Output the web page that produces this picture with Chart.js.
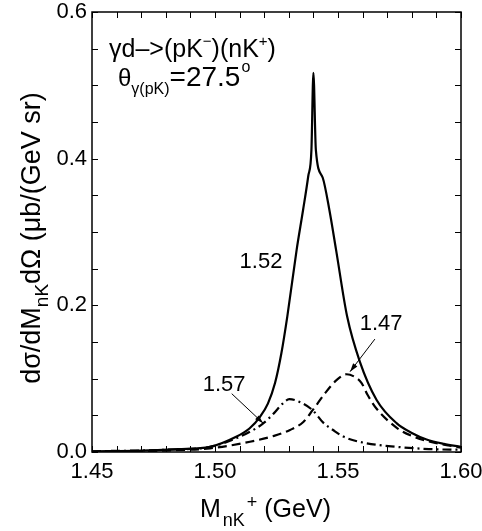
<!DOCTYPE html>
<html>
<head>
<meta charset="utf-8">
<script src="https://cdn.jsdelivr.net/npm/chart.js@4/dist/chart.umd.min.js"></script>
<style>
  body { margin: 0; background: #fff; }
  #wrap { width: 482px; height: 531px; }
</style>
</head>
<body>
<div id="wrap"><canvas id="myChart" width="482" height="531"></canvas></div>
<script>
(() => {
    // invariant mass M_nK+ (GeV) and cross sections (ub/(GeV sr)) for each curve
    let mass152 = [1.450, 1.470, 1.485, 1.498, 1.5088, 1.514, 1.5183, 1.5215, 1.5244, 1.527, 1.5294,
                   1.5332, 1.5358, 1.5379, 1.5392, 1.5400, 1.5410, 1.5438, 1.5465, 1.5492, 1.5537,
                   1.5589, 1.5657, 1.5739, 1.580, 1.586, 1.593, 1.600];
    let xsec152 = [0.001, 0.002, 0.004, 0.007, 0.021, 0.032, 0.048, 0.066, 0.094, 0.135, 0.185,
                   0.276, 0.330, 0.376, 0.412, 0.517, 0.412, 0.374, 0.330, 0.276, 0.185,
                   0.123, 0.071, 0.039, 0.026, 0.017, 0.011, 0.007];

    let mass147 = [1.450, 1.480, 1.498, 1.5142, 1.524, 1.5305, 1.5359, 1.5397, 1.5447, 1.5494,
                   1.5535, 1.557, 1.5596, 1.562, 1.5657, 1.5739, 1.580, 1.590, 1.600];
    let xsec147 = [0.000, 0.002, 0.005, 0.014, 0.022, 0.030, 0.041, 0.057, 0.080, 0.098,
                   0.106, 0.102, 0.094, 0.078, 0.059, 0.033, 0.022, 0.012, 0.006];

    let mass157 = [1.450, 1.480, 1.498, 1.5088, 1.515, 1.5196, 1.524, 1.5275, 1.5302, 1.5346,
                   1.5397, 1.544, 1.548, 1.5522, 1.560, 1.5739, 1.587, 1.600];
    let xsec157 = [0.001, 0.003, 0.007, 0.019, 0.029, 0.039, 0.053, 0.066, 0.072, 0.068,
                   0.057, 0.040, 0.030, 0.021, 0.013, 0.007, 0.004, 0.003];

    let curveLabels = ['1.52', '1.47', '1.57'];

    const FONT = '"Liberation Sans", Arial, Helvetica, sans-serif';
    let pts = (xs, ys) => xs.map((x, i) => ({x: x, y: ys[i]}));

    // draws a run of text pieces with their own sizes and vertical shifts
    function richText(ctx, parts, x, y) {
        parts.forEach(p => {
            ctx.font = p.size + 'px ' + FONT;
            x += p.gap || 0;
            ctx.fillText(p.t, x, y + (p.dy || 0));
            x += ctx.measureText(p.t).width;
        });
        return x;
    }
    function richWidth(ctx, parts) {
        let w = 0;
        parts.forEach(p => {
            ctx.font = p.size + 'px ' + FONT;
            w += (p.gap || 0) + ctx.measureText(p.t).width;
        });
        return w;
    }

    function arrow(ctx, x1, y1, x2, y2) {
        let a = Math.atan2(y2 - y1, x2 - x1), L = 9, s = 0.3;
        ctx.beginPath();
        ctx.moveTo(x1, y1);
        ctx.lineTo(x2, y2);
        ctx.stroke();
        ctx.beginPath();
        ctx.moveTo(x2, y2);
        ctx.lineTo(x2 - L * Math.cos(a - s), y2 - L * Math.sin(a - s));
        ctx.lineTo(x2 - L * Math.cos(a + s), y2 - L * Math.sin(a + s));
        ctx.closePath();
        ctx.fill();
    }

    let decor = {
        id: 'decor',
        afterDraw(chart) {
            let ctx = chart.ctx, a = chart.chartArea;
            let sx = chart.scales.x, sy = chart.scales.y;
            ctx.save();
            ctx.strokeStyle = '#000';
            ctx.fillStyle = '#000';

            // frame
            ctx.lineWidth = 1.5;
            ctx.strokeRect(a.left, a.top, a.right - a.left, a.bottom - a.top);

            // inward ticks on all four sides
            ctx.lineWidth = 1;
            ctx.beginPath();
            sx.ticks.forEach(t => {
                let px = Math.round(sx.getPixelForValue(t.value)) + 0.5;
                ctx.moveTo(px, a.bottom); ctx.lineTo(px, a.bottom - 6);
                ctx.moveTo(px, a.top); ctx.lineTo(px, a.top + 6);
            });
            sy.ticks.forEach(t => {
                let py = Math.round(sy.getPixelForValue(t.value)) + 0.5;
                ctx.moveTo(a.left, py); ctx.lineTo(a.left + 6, py);
                ctx.moveTo(a.right, py); ctx.lineTo(a.right - 6, py);
            });
            ctx.stroke();

            // reaction and angle
            ctx.textBaseline = 'alphabetic';
            ctx.textAlign = 'left';
            richText(ctx, [
                {t: 'γd–>(pK', size: 25},
                {t: '−', size: 15, dy: -11},
                {t: ')(nK', size: 25},
                {t: '+', size: 15, dy: -11},
                {t: ')', size: 25}
            ], 109, 57);
            richText(ctx, [
                {t: 'θ', size: 24},
                {t: 'γ(pK)', size: 16, dy: 8},
                {t: '=27.5', size: 28},
                {t: 'o', size: 16, dy: -14, gap: 1}
            ], 118, 86);

            // curve labels and arrows
            ctx.font = '22px ' + FONT;
            ctx.textAlign = 'center';
            ctx.textBaseline = 'middle';
            ctx.fillText(curveLabels[0], sx.getPixelForValue(1.5187), sy.getPixelForValue(0.259));
            ctx.fillText(curveLabels[1], sx.getPixelForValue(1.5675), sy.getPixelForValue(0.175));
            ctx.fillText(curveLabels[2], sx.getPixelForValue(1.5037), sy.getPixelForValue(0.0914));
            ctx.lineWidth = 1;
            arrow(ctx, sx.getPixelForValue(1.5068), sy.getPixelForValue(0.0795),
                       sx.getPixelForValue(1.5196), sy.getPixelForValue(0.0392));
            arrow(ctx, sx.getPixelForValue(1.5650), sy.getPixelForValue(0.1540),
                       sx.getPixelForValue(1.5549), sy.getPixelForValue(0.1096));

            // x axis title
            ctx.textAlign = 'left';
            ctx.textBaseline = 'alphabetic';
            richText(ctx, [
                {t: 'M', size: 25},
                {t: 'nK', size: 18, dy: 9, gap: 2},
                {t: '+', size: 18, dy: -9, gap: 2},
                {t: ' (GeV)', size: 25}
            ], 200, 517);

            // y axis title
            let yt = [
                {t: 'dσ/dM', size: 27},
                {t: 'nK', size: 19, dy: 8},
                {t: 'dΩ (μb/(GeV sr)', size: 27}
            ];
            ctx.translate(40, 238);
            ctx.rotate(-Math.PI / 2);
            richText(ctx, yt, -richWidth(ctx, yt) / 2, 0);
            ctx.restore();
        }
    };

    let ctx = document.getElementById('myChart');
    let myChart = new Chart(ctx, {
        type: 'line',
        data: {
            datasets: [{
                    label: curveLabels[0],
                    data: pts(mass152, xsec152),
                    borderColor: '#000',
                    borderWidth: 2.2
                },
                {
                    label: curveLabels[1],
                    data: pts(mass147, xsec147),
                    borderColor: '#000',
                    borderWidth: 2.2,
                    borderDash: [9, 5]
                },
                {
                    label: curveLabels[2],
                    data: pts(mass157, xsec157),
                    borderColor: '#000',
                    borderWidth: 2.2,
                    borderDash: [9, 4, 2, 4]
                }
            ]
        },
        options: {
            responsive: false,
            animation: false,
            events: [],
            cubicInterpolationMode: 'monotone',
            elements: { point: { radius: 0 } },
            layout: { padding: { top: 12, right: 21, left: 0, bottom: 0 } },
            plugins: { legend: { display: false }, tooltip: { enabled: false } },
            scales: {
                x: {
                    type: 'linear',
                    min: 1.45,
                    max: 1.60,
                    grid: { display: false, drawTicks: false },
                    border: { display: false },
                    ticks: {
                        stepSize: 0.01,
                        autoSkip: false,
                        maxRotation: 0,
                        padding: 7,
                        color: '#000',
                        font: { family: FONT, size: 22 },
                        callback: v => Math.round(v * 100) % 5 === 0 ? v.toFixed(2) : ''
                    },
                    afterFit: s => { s.height = 79; s.paddingLeft = 0; s.paddingRight = 0; }
                },
                y: {
                    min: 0,
                    max: 0.6,
                    grid: { display: false, drawTicks: false },
                    border: { display: false },
                    ticks: {
                        stepSize: 0.05,
                        autoSkip: false,
                        padding: 5,
                        color: '#000',
                        font: { family: FONT, size: 22 },
                        callback: v => Math.round(v * 100) % 20 === 0 ? v.toFixed(1) : ''
                    },
                    afterFit: s => { s.width = 92; s.paddingTop = 0; s.paddingBottom = 0; }
                }
            }
        },
        plugins: [decor]
    });
})();
</script>
</body>
</html>
